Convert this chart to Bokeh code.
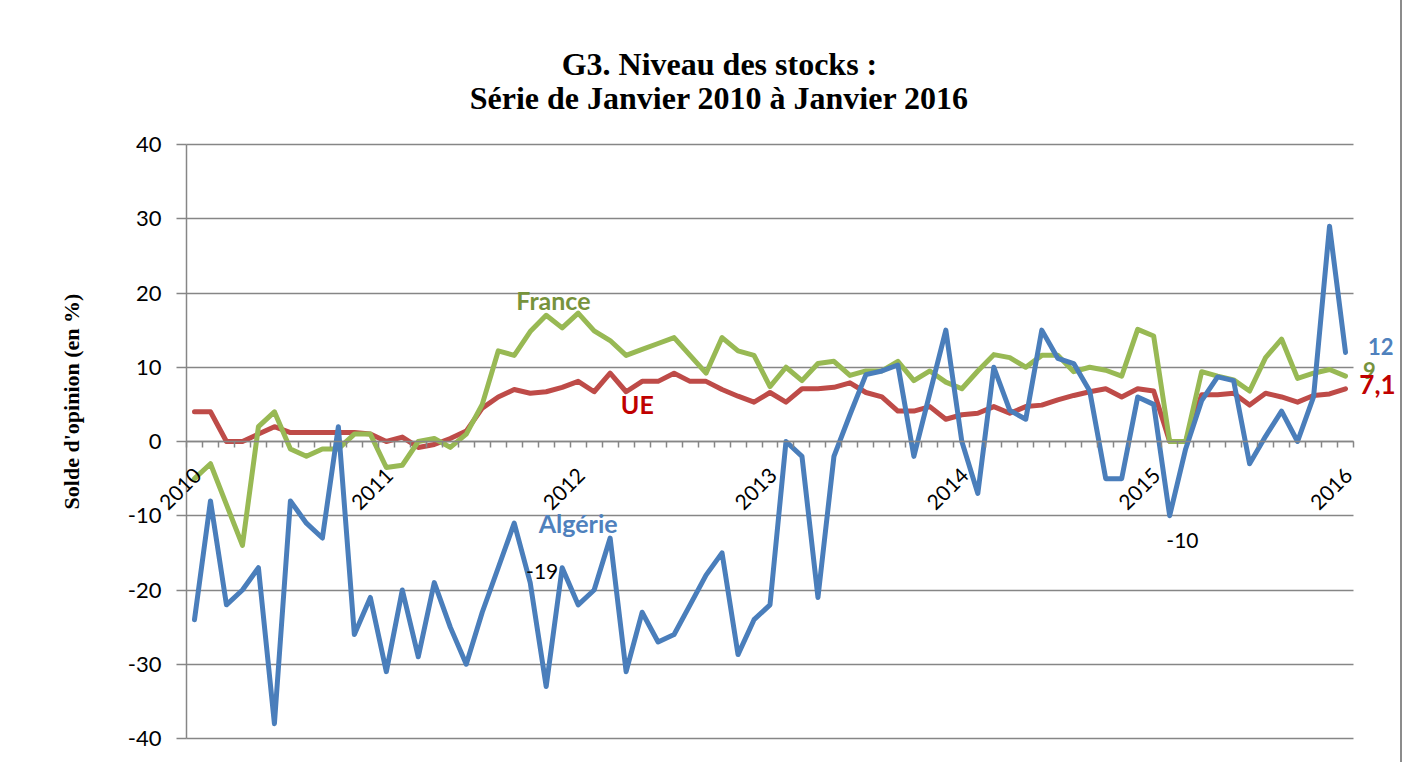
import math
from bokeh.plotting import figure
from bokeh.models import Range1d, LinearAxis, FixedTicker, Label, LabelSet, ColumnDataSource, Grid
from bokeh.core.properties import value
from bokeh.embed import file_html
from bokeh.resources import INLINE

# Monthly series, January 2010 .. January 2016 (73 months)
years = ["2010", "2011", "2012", "2013", "2014", "2015", "2016"]

algerie = [-24, -8, -22, -20, -17, -38, -8, -11, -13, 2, -26, -21,
           -31, -20, -29, -19, -25, -30, -23, -17, -11, -19, -33, -17,
           -22, -20, -13, -31, -23, -27, -26, -22, -18, -15, -28.7, -24,
           -22, 0, -2, -21, -2, 3.6, 9, 9.5, 10.3, -2, 6.5, 15,
           0, -7, 10, 4.2, 3, 15, 11.2, 10.5, 6.8, -5, -5, 6,
           5, -10, -1, 5.5, 8.7, 8.2, -3, 0.7, 4.1, 0, 6, 29,
           12]

ue = [4, 4, 0, 0, 1, 2, 1.2, 1.2, 1.2, 1.2, 1.2, 1,
      0, 0.6, -0.8, -0.4, 0.4, 1.4, 4.5, 6, 7, 6.5, 6.7, 7.3,
      8.1, 6.7, 9.2, 6.7, 8.1, 8.1, 9.2, 8.1, 8.1, 7, 6.1, 5.3,
      6.6, 5.3, 7.1, 7.1, 7.3, 7.9, 6.6, 6, 4.1, 4.1, 4.7, 3,
      3.6, 3.8, 4.7, 3.8, 4.7, 4.9, 5.6, 6.2, 6.7, 7.1, 6, 7.1,
      6.8, 0, 0, 6.3, 6.3, 6.5, 4.9, 6.5, 6, 5.3, 6.2, 6.4,
      7.1]

france = [-5, -3, -8.5, -14, 2, 4, -1, -2, -1, -1, 1, 1,
          -3.5, -3.2, 0, 0.4, -0.8, 1, 5, 12.2, 11.6, 14.8, 17, 15.3,
          17.3, 14.9, 13.6, 11.6, 12.4, 13.2, 14, 11.6, 9.2, 14, 12.2, 11.6,
          7.4, 10, 8.2, 10.5, 10.8, 8.9, 9.5, 9.5, 10.8, 8.2, 9.5, 8,
          7.1, 9.5, 11.7, 11.3, 10, 11.6, 11.6, 9.4, 10, 9.6, 8.8, 15.1,
          14.2, 0, 0, 9.4, 8.8, 8.3, 6.8, 11.3, 13.8, 8.5, 9.2, 9.7,
          8.8]

y_ticks = [-40, -30, -20, -10, 0, 10, 20, 30, 40]

n = len(algerie)
months = list(range(n))
year_pos = [months[12 * k] for k in range(len(years))]

# ---- geometry (pixels) ----
W, H = 1400, 762
PANEL, AXIS_X = 127, 186              # left panel width, x pixel of the y axis
TOP, AXIS_TOP, AXIS_BOTTOM, BOTTOM = 50, 144, 738, 10
PLOT_W, PLOT_H = 1167, 594            # visible plotting area (-0.5..n-0.5, -40..40)
ppx = PLOT_W / n
ppy = PLOT_H / (y_ticks[-1] - y_ticks[0])
x_start = -0.5 - (AXIS_X - PANEL) / ppx
x_end = x_start + (W - PANEL) / ppx
y_start = y_ticks[0] - (H - BOTTOM - AXIS_BOTTOM) / ppy
y_end = y_ticks[-1] + (AXIS_TOP - TOP) / ppy

GRID = "#868686"
BLUE, RED, GREEN = "#4A7EBB", "#BE4B48", "#98B954"

p = figure(width=W, height=H, output_backend="svg", toolbar_location=None,
           x_range=Range1d(x_start, x_end), y_range=Range1d(y_start, y_end),
           x_axis_type=None, y_axis_type=None,
           min_border_left=PANEL, min_border_right=0,
           min_border_top=TOP, min_border_bottom=BOTTOM)
p.outline_line_color = None
p.background_fill_color = "white"
p.border_fill_color = "white"
p.styles = {"box-shadow": "-2px 0 0 0 #8c8c8c, 2px 0 0 0 #8c8c8c, 0 -2px 0 0 #8c8c8c"}

yt = FixedTicker(ticks=y_ticks)

grid = Grid(dimension=1, ticker=yt, grid_line_color=GRID, grid_line_width=1.5)
if "cross_bounds" in Grid.properties():
    grid.cross_bounds = (-0.5, n - 0.5)
    p.add_layout(grid)
else:
    p.segment(x0=[-0.5] * len(y_ticks), x1=[n - 0.5] * len(y_ticks), y0=y_ticks, y1=y_ticks,
              line_color=GRID, line_width=1.5)

# left axis nearest to the frame: carries only the axis title
ax2 = LinearAxis(ticker=FixedTicker(ticks=[]),
                 axis_line_color=None, major_tick_line_color=None, minor_tick_line_color=None,
                 major_tick_out=0, minor_tick_out=0, major_label_standoff=0,
                 major_label_text_font_size="0px",
                 axis_label="Solde d'opinion (en %)", axis_label_text_font="Liberation Serif",
                 axis_label_text_font_style="bold", axis_label_text_font_size="22px",
                 axis_label_text_color="black", axis_label_standoff=44)
p.add_layout(ax2, "left")

# the value axis, drawn at the left edge of the category range
yax = LinearAxis(ticker=yt, fixed_location=-0.5, bounds=(y_ticks[0], y_ticks[-1]),
                 axis_line_color=GRID, axis_line_width=1.5,
                 major_tick_line_color=GRID, major_tick_line_width=1.5,
                 major_tick_out=10, major_tick_in=0, minor_tick_line_color=None,
                 major_label_text_font="Lato", major_label_text_font_size="22px",
                 major_label_text_color="black", major_label_standoff=15,
                 major_label_overrides={t: str(t) for t in y_ticks})
p.add_layout(yax, "left")

# category axis crossing at y = 0: tick marks between months (as unlabeled minor ticks)
xt = LinearAxis(ticker=FixedTicker(ticks=[], minor_ticks=[m - 0.5 for m in months] + [n - 0.5]),
                fixed_location=0, bounds=(-0.5, n - 0.5),
                axis_line_color=GRID, axis_line_width=1.5,
                major_tick_line_color=None, major_tick_out=0, major_tick_in=0,
                minor_tick_line_color=GRID, minor_tick_line_width=1.5,
                minor_tick_out=6, minor_tick_in=0,
                major_label_standoff=0)
p.add_layout(xt, "below")

lw = 5
p.line(months, ue, line_color=RED, line_width=lw, line_join="round", line_cap="round")
p.line(months, france, line_color=GREEN, line_width=lw, line_join="round", line_cap="round")
p.line(months, algerie, line_color=BLUE, line_width=lw, line_join="round", line_cap="round")

# year labels (rotated)
ysrc = ColumnDataSource(dict(x=year_pos, y=[0] * len(years), text=years))
p.add_layout(LabelSet(x="x", y="y", text="text", source=ysrc, angle=math.pi / 4,
                      text_align="right", text_baseline="middle",
                      x_offset=3, y_offset=-30,
                      text_font=value("Lato"), text_font_size=value("21px"),
                      text_color="black"))

def lab(x, y, text, color, size, bold=True, font="Lato", angle=0.0):
    p.add_layout(Label(x=x, y=y, text=text, text_color=color, text_font=font,
                       text_font_size=size, text_font_style="bold" if bold else "normal",
                       text_align="center", text_baseline="middle", angle=angle))

# titles
lab(32.84, 50.8, "G3. Niveau des stocks :", "black", "32px", font="Liberation Serif")
lab(32.84, 46.2, "Série de Janvier 2010 à Janvier 2016", "black", "32px", font="Liberation Serif")

# series labels
lab(22.45, 19.1, "France", "#77933C", "25px")
lab(27.7, 5.0, "UE", "#C00000", "25px")
lab(24.0, -11.0, "Algérie", "#4F81BD", "25px")
lab(21.75, -17.5, "-19", "black", "21px", bold=False)
lab(61.8, -13.3, "-10", "black", "21px", bold=False)
lab(74.2, 12.8, "12", "#4F81BD", "22px")
lab(73.5, 9.6, "9", "#77933C", "22px")
lab(74.0, 7.7, "7,1", "#C00000", "26px")

open("out.html", "w").write(file_html(p, INLINE))
